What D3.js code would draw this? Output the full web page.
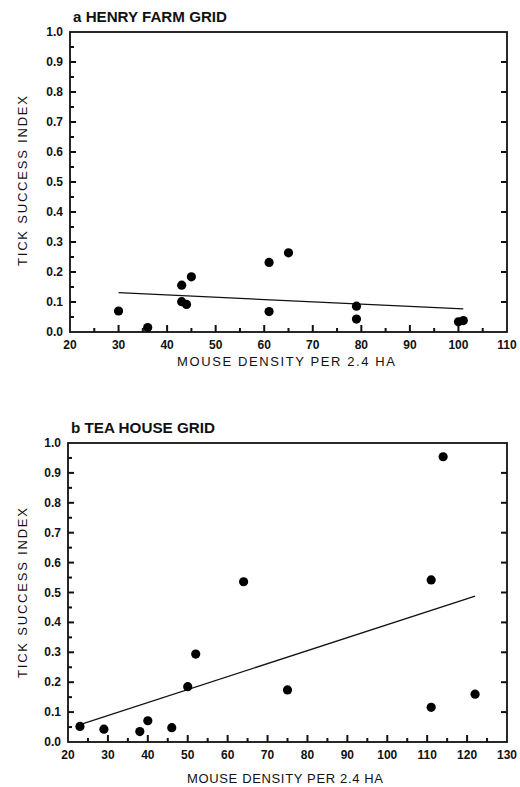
<!DOCTYPE html>
<html>
<head>
<meta charset="utf-8">
<script src="https://cdn.jsdelivr.net/npm/d3@7"></script>
<style>
  body { margin: 0; background: #fff; }
  svg { display: block; }
  text { font-family: "Liberation Sans", Arial, sans-serif; fill: #111; }
</style>
</head>
<body>
<div id="chart"></div>
<script>
// Panel a: Henry Farm grid
const henryDensity = [30, 36, 43, 45, 43, 44, 61, 65, 61, 79, 79, 100, 101]
const henryIndex = [0.07, 0.015, 0.156, 0.184, 0.101, 0.092, 0.232, 0.264, 0.068, 0.086, 0.043, 0.034, 0.038]
const henryFit = [[30, 0.131], [101, 0.077]]

// Panel b: Tea House grid
const teaDensity = [23, 29, 38, 40, 46, 50, 52, 64, 75, 111, 111, 114, 122]
const teaIndex = [0.052, 0.043, 0.035, 0.071, 0.048, 0.185, 0.294, 0.536, 0.174, 0.542, 0.116, 0.954, 0.16]
const teaFit = [[23, 0.058], [122, 0.488]]

const yTicks = [0, 0.1, 0.2, 0.3, 0.4, 0.5, 0.6, 0.7, 0.8, 0.9, 1.0]
const xTicksA = [20, 30, 40, 50, 60, 70, 80, 90, 100, 110]
const xTicksB = [20, 30, 40, 50, 60, 70, 80, 90, 100, 110, 120, 130]

const svg = d3.select('#chart')
    .append('svg')
    .attr('width', 520)
    .attr('height', 787);

function drawPanel(opts) {
    const g = svg.append('g');
    const x = d3.scaleLinear().domain(opts.xDomain).range([opts.left, opts.right]);
    const y = d3.scaleLinear().domain([0, 1]).range([opts.bottom, opts.top]);

    // frame
    g.append('rect')
        .attr('x', opts.left).attr('y', opts.top)
        .attr('width', opts.right - opts.left)
        .attr('height', opts.bottom - opts.top)
        .attr('fill', 'none').attr('stroke', '#111').attr('stroke-width', 1.8);

    const tickG = g.append('g').attr('stroke', '#111').attr('stroke-width', 2);

    // left ticks (inward), major every 0.1 and minor at 0.05
    const yMinor = d3.range(0.05, 1, 0.1);
    tickG.selectAll(null).data(yTicks.slice(1, -1)).join('line')
        .attr('x1', opts.left).attr('x2', opts.left + 6)
        .attr('y1', d => y(d)).attr('y2', d => y(d));
    tickG.selectAll(null).data(yMinor).join('line')
        .attr('x1', opts.left).attr('x2', opts.left + 4)
        .attr('y1', d => y(d)).attr('y2', d => y(d));
    // right ticks (inward)
    tickG.selectAll(null).data(yTicks.slice(1, -1)).join('line')
        .attr('x1', opts.right).attr('x2', opts.right - 6)
        .attr('y1', d => y(d)).attr('y2', d => y(d));
    // bottom ticks (inward)
    const xMinor = d3.range(opts.xDomain[0] + 5, opts.xDomain[1], 10);
    tickG.selectAll(null).data(opts.xTicks.slice(1, -1)).join('line')
        .attr('x1', d => x(d)).attr('x2', d => x(d))
        .attr('y1', opts.bottom).attr('y2', opts.bottom - 7);
    tickG.selectAll(null).data(xMinor).join('line')
        .attr('x1', d => x(d)).attr('x2', d => x(d))
        .attr('y1', opts.bottom).attr('y2', opts.bottom - 4);

    // y labels
    g.selectAll(null)
        .data(yTicks)
        .join('text')
        .attr('x', opts.left - 7)
        .attr('y', d => y(d) + 4)
        .attr('text-anchor', 'end')
        .style('font-size', '12px')
        .style('font-weight', 'bold')
        .text(d => d.toFixed(1));

    g.selectAll(null)
        .data(opts.xTicks)
        .join('text')
        .attr('x', d => x(d))
        .attr('y', opts.bottom + 17)
        .attr('text-anchor', 'middle')
        .style('font-size', '12px')
        .style('font-weight', 'bold')
        .text(d => d);

    // regression line
    g.append('line')
        .attr('x1', x(opts.fit[0][0])).attr('y1', y(opts.fit[0][1]))
        .attr('x2', x(opts.fit[1][0])).attr('y2', y(opts.fit[1][1]))
        .attr('stroke', '#111').attr('stroke-width', 1.3);

    // points
    g.selectAll('circle')
        .data(opts.xs.map((d, i) => [d, opts.ys[i]]))
        .join('circle')
        .attr('cx', d => x(d[0]))
        .attr('cy', d => y(d[1]))
        .attr('r', 4.6)
        .attr('fill', '#000');

    // title
    g.append('text')
        .attr('x', opts.left + 3)
        .attr('y', opts.top - 10)
        .attr('textLength', opts.titleWidth)
        .attr('lengthAdjust', 'spacingAndGlyphs')
        .style('font-size', '14px')
        .style('font-weight', 'bold')
        .text(opts.title);

    // axis titles
    g.append('text')
        .attr('x', opts.xLabelX)
        .attr('y', opts.bottom + opts.xLabelDy)
        .attr('text-anchor', 'middle')
        .attr('textLength', opts.xLabelWidth)
        .style('font-size', '13px')
        .text('MOUSE DENSITY PER 2.4 HA');

    g.append('text')
        .attr('transform', 'translate(27,' + opts.yLabelY + ') rotate(-90)')
        .attr('text-anchor', 'middle')
        .attr('textLength', 170)
        .style('font-size', '13px')
        .text('TICK SUCCESS INDEX');
}

drawPanel({
    xDomain: [20, 110], xTicks: xTicksA,
    left: 70, right: 507, top: 32, bottom: 332,
    xs: henryDensity, ys: henryIndex, fit: henryFit,
    title: 'a  HENRY FARM GRID', titleWidth: 154,
    xLabelX: 286, xLabelDy: 34, xLabelWidth: 218, yLabelY: 181
});

drawPanel({
    xDomain: [20, 130], xTicks: xTicksB,
    left: 68, right: 507, top: 443, bottom: 742,
    xs: teaDensity, ys: teaIndex, fit: teaFit,
    title: 'b  TEA HOUSE GRID', titleWidth: 144,
    xLabelX: 285, xLabelDy: 41, xLabelWidth: 196, yLabelY: 593
});
</script>
</body>
</html>
